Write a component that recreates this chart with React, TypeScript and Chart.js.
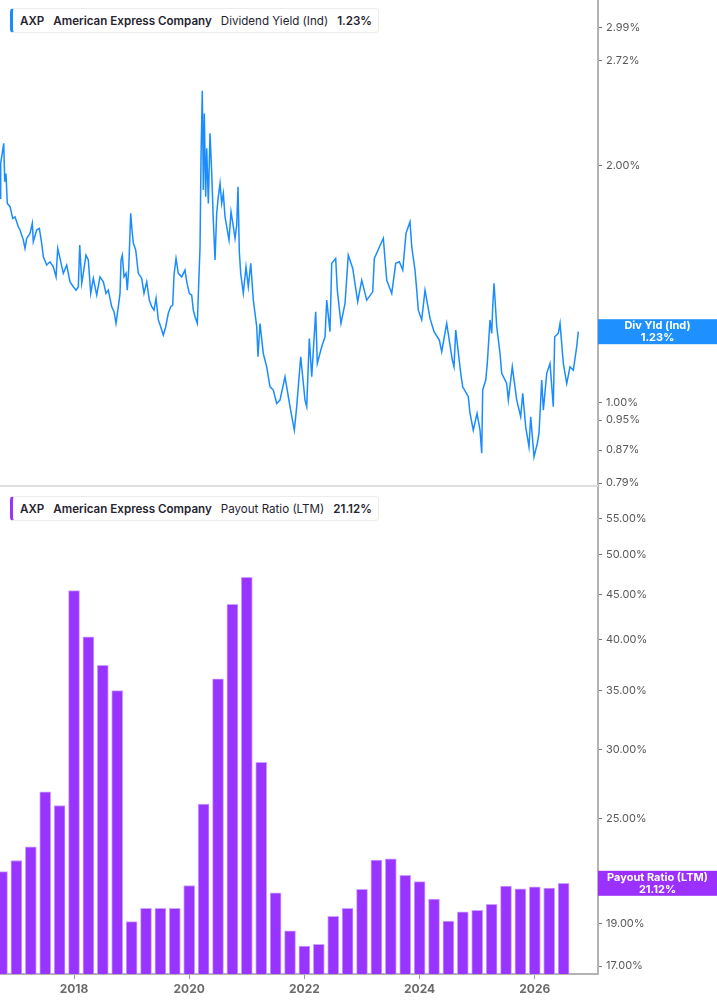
import { useEffect, useRef } from 'react';
import { Chart, registerables } from 'chart.js';

Chart.register(...registerables);
Chart.defaults.font.family = 'Inter, "Noto Sans", sans-serif';

// Dividend yield (Ind), % — sampled from the daily line
const yieldYears = [
  2016.715, 2016.727, 2016.762, 2016.78, 2016.797, 2016.819, 2016.842, 2016.889, 2016.936, 2016.976,
  2017.033, 2017.063, 2017.12, 2017.149, 2017.179, 2017.236, 2017.276, 2017.293, 2017.352, 2017.398,
  2017.439, 2017.467, 2017.526, 2017.583, 2017.641, 2017.688, 2017.717, 2017.757, 2017.814, 2017.873,
  2017.931, 2017.988, 2018.035, 2018.075, 2018.099, 2018.134, 2018.161, 2018.208, 2018.248, 2018.29,
  2018.335, 2018.394, 2018.451, 2018.509, 2018.556, 2018.595, 2018.655, 2018.694, 2018.729, 2018.769,
  2018.799, 2018.816, 2018.839, 2018.868, 2018.903, 2018.925, 2018.95, 2018.984, 2019.007, 2019.03,
  2019.071, 2019.116, 2019.175, 2019.215, 2019.262, 2019.307, 2019.349, 2019.389, 2019.424, 2019.464,
  2019.505, 2019.55, 2019.592, 2019.637, 2019.679, 2019.714, 2019.736, 2019.771, 2019.811, 2019.87,
  2019.927, 2019.957, 2020.002, 2020.043, 2020.071, 2020.101, 2020.141, 2020.165, 2020.188, 2020.205,
  2020.227, 2020.245, 2020.262, 2020.286, 2020.304, 2020.332, 2020.361, 2020.391, 2020.418, 2020.448,
  2020.477, 2020.505, 2020.535, 2020.564, 2020.592, 2020.622, 2020.651, 2020.691, 2020.726, 2020.766,
  2020.795, 2020.825, 2020.847, 2020.87, 2020.894, 2020.939, 2020.986, 2021.026, 2021.068, 2021.113,
  2021.172, 2021.194, 2021.229, 2021.286, 2021.345, 2021.403, 2021.46, 2021.519, 2021.576, 2021.663,
  2021.75, 2021.825, 2021.866, 2021.936, 2022.01, 2022.04, 2022.085, 2022.127, 2022.196, 2022.224,
  2022.3, 2022.358, 2022.387, 2022.444, 2022.474, 2022.543, 2022.571, 2022.635, 2022.705, 2022.762,
  2022.839, 2022.925, 2022.995, 2023.082, 2023.186, 2023.214, 2023.342, 2023.37, 2023.429, 2023.516,
  2023.585, 2023.648, 2023.707, 2023.764, 2023.833, 2023.863, 2023.92, 2023.95, 2023.977, 2024.036,
  2024.094, 2024.181, 2024.25, 2024.342, 2024.384, 2024.47, 2024.568, 2024.597, 2024.627, 2024.714,
  2024.748, 2024.845, 2024.875, 2024.932, 2024.997, 2025.049, 2025.078, 2025.095, 2025.148, 2025.175,
  2025.222, 2025.252, 2025.269, 2025.292, 2025.339, 2025.396, 2025.425, 2025.512, 2025.54, 2025.609,
  2025.686, 2025.755, 2025.79, 2025.842, 2025.899, 2025.929, 2025.986, 2026.043, 2026.073, 2026.12,
  2026.148, 2026.207, 2026.264, 2026.321, 2026.345, 2026.408, 2026.438, 2026.495, 2026.554, 2026.611,
  2026.669, 2026.727, 2026.755,
];
const yieldValues = [
  1.817, 2.013, 2.092, 2.134, 1.907, 1.954, 1.79, 1.773, 1.713, 1.721,
  1.672, 1.656, 1.608, 1.569, 1.616, 1.64, 1.689, 1.6, 1.656, 1.664,
  1.593, 1.531, 1.495, 1.509, 1.487, 1.444, 1.569, 1.524, 1.459, 1.495,
  1.423, 1.403, 1.389, 1.403, 1.585, 1.417, 1.459, 1.539, 1.517, 1.376,
  1.438, 1.369, 1.444, 1.423, 1.376, 1.389, 1.323, 1.304, 1.26, 1.323,
  1.376, 1.517, 1.539, 1.444, 1.459, 1.389, 1.48, 1.739, 1.656, 1.593,
  1.562, 1.459, 1.438, 1.376, 1.423, 1.349, 1.323, 1.31, 1.356, 1.273,
  1.248, 1.218, 1.248, 1.298, 1.323, 1.33, 1.452, 1.524, 1.459, 1.444,
  1.473, 1.423, 1.376, 1.369, 1.31, 1.285, 1.26, 1.417, 1.577, 2.052,
  2.489, 1.861, 2.329, 1.825, 2.103, 1.79, 2.197, 1.954, 1.705, 1.517,
  1.739, 1.825, 1.898, 1.79, 1.843, 1.721, 1.672, 1.608, 1.747, 1.672,
  1.616, 1.68, 1.879, 1.554, 1.459, 1.376, 1.487, 1.403, 1.502, 1.349,
  1.248, 1.143, 1.26, 1.154, 1.11, 1.047, 1.037, 0.997, 1.007, 1.078,
  0.988, 0.922, 0.988, 1.143, 1.007, 0.988, 1.206, 1.078, 1.304, 1.121,
  1.177, 1.212, 1.349, 1.23, 1.502, 1.524, 1.389, 1.26, 1.336, 1.539,
  1.48, 1.343, 1.43, 1.349, 1.382, 1.524, 1.6, 1.616, 1.43, 1.376,
  1.502, 1.509, 1.473, 1.64, 1.697, 1.577, 1.473, 1.389, 1.31, 1.273,
  1.389, 1.279, 1.23, 1.2, 1.16, 1.26, 1.132, 1.11, 1.236, 1.089,
  1.047, 1.017, 0.969, 0.922, 0.969, 0.922, 0.862, 1.037, 1.068, 1.121,
  1.273, 1.224, 1.323, 1.417, 1.248, 1.154, 1.089, 1.057, 1.007, 1.11,
  1.007, 0.959, 1.027, 0.931, 0.878, 0.959, 0.853, 0.887, 0.914, 1.068,
  0.978, 1.089, 1.121, 0.988, 1.212, 1.224, 1.26, 1.121, 1.057, 1.11,
  1.099, 1.177, 1.23,
];
const yieldTicks = [0.79, 0.87, 0.95, 1.0, 2.0, 2.72, 2.99];

// Payout ratio (LTM), % — quarterly
const payoutQuarters = [
  2016.75, 2017.0, 2017.25, 2017.5, 2017.75, 2018.0, 2018.25, 2018.5, 2018.75, 2019.0,
  2019.25, 2019.5, 2019.75, 2020.0, 2020.25, 2020.5, 2020.75, 2021.0, 2021.25, 2021.5,
  2021.75, 2022.0, 2022.25, 2022.5, 2022.75, 2023.0, 2023.25, 2023.5, 2023.75, 2024.0,
  2024.25, 2024.5, 2024.75, 2025.0, 2025.25, 2025.5, 2025.75, 2026.0, 2026.25, 2026.5,
];
const payoutValues = [
  21.78, 22.42, 23.24, 26.85, 25.9, 45.5, 40.3, 37.4, 35.0, 19.1,
  19.78, 19.78, 19.78, 21.0, 26.0, 36.1, 43.9, 47.1, 29.0, 20.6,
  18.65, 17.92, 18.0, 19.37, 19.78, 20.79, 22.44, 22.52, 21.57, 21.21,
  20.27, 19.13, 19.6, 19.68, 19.99, 20.96, 20.82, 20.92, 20.86, 21.12,
];
const payoutTicks = [17, 19, 25, 30, 35, 40, 45, 50, 55];

const yearTicks = [2018, 2020, 2022, 2024, 2026];
const xMin = 2016.715;
const xMax = 2027.097;

const BLUE = '#1a8cff';
const PURPLE = '#9933ff';
const AXIS_W = 119;

const lastValueTag = {
  id: 'lastValueTag',
  afterDraw(chart: any, _args: any, opts: any) {
    const { ctx, chartArea, scales } = chart;
    const y = scales.y.getPixelForValue(opts.value);
    ctx.save();
    ctx.fillStyle = opts.color;
    ctx.fillRect(chartArea.right, y - 12.5, chart.width - chartArea.right, 25);
    ctx.fillStyle = '#fff';
    ctx.font = `bold 11px ${Chart.defaults.font.family}`;
    ctx.textAlign = 'center';
    ctx.textBaseline = 'middle';
    const cx = (chartArea.right + chart.width) / 2;
    ctx.fillText(opts.title, cx, y - 6);
    ctx.fillText(opts.text, cx, y + 6);
    ctx.restore();
  },
};

const bottomRule = {
  id: 'bottomRule',
  afterDraw(chart: any) {
    const { ctx, chartArea } = chart;
    ctx.save();
    ctx.strokeStyle = '#dedede';
    ctx.lineWidth = 2;
    ctx.beginPath();
    ctx.moveTo(chartArea.left, chartArea.bottom - 1);
    ctx.lineTo(chartArea.right, chartArea.bottom - 1);
    ctx.stroke();
    ctx.restore();
  },
};

function rightAxis(min: number, max: number, tickValues: number[]) {
  return {
    type: 'logarithmic' as const,
    position: 'right' as const,
    min,
    max,
    afterBuildTicks: (s: any) => {
      s.ticks = tickValues.map((value) => ({ value }));
    },
    afterFit: (s: any) => {
      s.width = AXIS_W;
      s.paddingTop = 0;
      s.paddingBottom = 0;
    },
    ticks: {
      autoSkip: false,
      color: '#595959',
      font: { size: 11 },
      padding: 4,
      callback: (v: any) => `${Number(v).toFixed(2)}%`,
    },
    grid: { drawOnChartArea: false, tickLength: 4, tickColor: '#777', lineWidth: 1 },
    border: { color: '#b3b3b3', width: 2 },
  };
}

function YieldChart() {
  const canvasRef = useRef<HTMLCanvasElement>(null);

  useEffect(() => {
    const canvas = canvasRef.current;
    if (!canvas) return undefined;
    const chart = new Chart(canvas, {
      type: 'line',
      data: {
        datasets: [
          {
            data: yieldYears.map((x, i) => ({ x, y: yieldValues[i] })),
            borderColor: BLUE,
            borderWidth: 1.5,
            pointRadius: 0,
            tension: 0,
          },
        ],
      },
      options: {
        animation: false,
        responsive: true,
        maintainAspectRatio: false,
        layout: { padding: 0 },
        plugins: {
          legend: { display: false },
          tooltip: { enabled: false },
          lastValueTag: { value: 1.23, color: '#1e90ff', title: 'Div Yld (Ind)', text: '1.23%' },
        } as any,
        scales: {
          x: { type: 'linear', display: false, min: xMin, max: xMax },
          y: rightAxis(0.781, 3.245, yieldTicks),
        },
      },
      plugins: [lastValueTag, bottomRule],
    });
    return () => chart.destroy();
  }, []);

  return <canvas ref={canvasRef} />;
}

function PayoutChart() {
  const canvasRef = useRef<HTMLCanvasElement>(null);

  useEffect(() => {
    const canvas = canvasRef.current;
    if (!canvas) return undefined;
    const chart = new Chart(canvas, {
      type: 'bar',
      data: {
        datasets: [
          {
            data: payoutQuarters.map((x, i) => ({ x, y: payoutValues[i] })),
            backgroundColor: PURPLE,
            borderColor: '#caa2ff',
            borderWidth: 1,
            barThickness: 11,
          },
        ],
      },
      options: {
        animation: false,
        responsive: true,
        maintainAspectRatio: false,
        layout: { padding: 0 },
        plugins: {
          legend: { display: false },
          tooltip: { enabled: false },
          lastValueTag: { value: 21.12, color: '#9b30ff', title: 'Payout Ratio (LTM)', text: '21.12%' },
        } as any,
        scales: {
          x: {
            type: 'linear',
            min: xMin,
            max: xMax,
            offset: false,
            afterBuildTicks: (s: any) => {
              s.ticks = yearTicks.map((value) => ({ value }));
            },
            afterFit: (s: any) => {
              s.height = 31;
              s.paddingLeft = 0;
              s.paddingRight = 0;
            },
            ticks: {
              autoSkip: false,
              maxRotation: 0,
              color: '#6b6b6b',
              font: { size: 12, weight: 'bold' },
              padding: 3,
              callback: (v: any) => String(v),
            },
            grid: { drawOnChartArea: false, offset: false, tickLength: 5, tickColor: '#999' },
            border: { color: '#b3b3b3', width: 2 },
          },
          y: rightAxis(16.65, 59.7, payoutTicks),
        },
      },
      plugins: [lastValueTag],
    });
    return () => chart.destroy();
  }, []);

  return <canvas ref={canvasRef} />;
}

function SeriesTag({ top, color, metric, value }: { top: number; color: string; metric: string; value: string }) {
  return (
    <div
      style={{
        position: 'absolute',
        left: 10,
        top,
        height: 25,
        boxSizing: 'border-box',
        display: 'flex',
        alignItems: 'center',
        gap: 9,
        padding: '0 6px 0 7px',
        background: '#fff',
        border: '1px solid #ececec',
        borderLeft: `3px solid ${color}`,
        borderRadius: 4,
        fontFamily: 'Inter, sans-serif',
        fontSize: 11.6,
        color: '#1f2430',
        whiteSpace: 'nowrap',
      }}
    >
      <span style={{ fontWeight: 600 }}>AXP</span>
      <span style={{ fontWeight: 600 }}>American Express Company</span>
      <span>{metric}</span>
      <span style={{ fontWeight: 600 }}>{value}</span>
    </div>
  );
}

export default function App() {
  useEffect(() => {
    document.body.style.margin = '0';
  }, []);

  return (
    <div style={{ position: 'relative', width: 717, height: 1005, background: '#fff' }}>
      <div style={{ position: 'absolute', left: 0, top: 0, width: 717, height: 487 }}>
        <YieldChart />
      </div>
      <div style={{ position: 'absolute', left: 0, top: 487, width: 717, height: 518 }}>
        <PayoutChart />
      </div>
      <SeriesTag top={8} color={BLUE} metric="Dividend Yield (Ind)" value="1.23%" />
      <SeriesTag top={496} color={PURPLE} metric="Payout Ratio (LTM)" value="21.12%" />
    </div>
  );
}
